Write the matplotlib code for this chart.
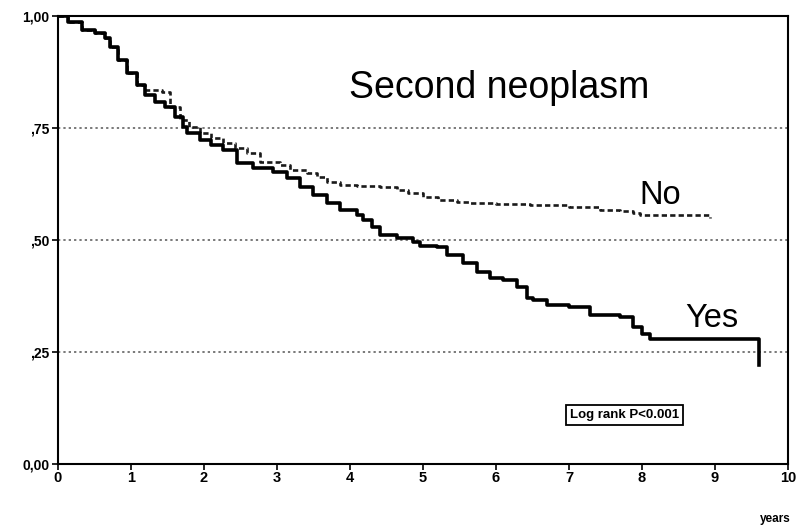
import matplotlib.pyplot as plt

# Kaplan-Meier style survival curves
yes_t = [0, 0.14, 0.33, 0.51, 0.64, 0.71, 0.82, 0.94, 1.08, 1.19, 1.33, 1.47, 1.6, 1.71,
         1.77, 1.95, 2.1, 2.26, 2.45, 2.67, 2.95, 3.14, 3.32, 3.49, 3.68, 3.86, 4.1,
         4.18, 4.3, 4.41, 4.64, 4.86, 4.96, 5.19, 5.33, 5.55, 5.74, 5.92, 6.1, 6.29,
         6.42, 6.5, 6.7, 7.0, 7.29, 7.7, 7.88, 8.0, 8.11, 9.6, 9.6]
yes_s = [1.0, 0.987, 0.969, 0.962, 0.951, 0.931, 0.902, 0.873, 0.846, 0.824, 0.808,
         0.797, 0.775, 0.752, 0.739, 0.723, 0.712, 0.701, 0.672, 0.661, 0.652, 0.638,
         0.618, 0.60, 0.583, 0.567, 0.556, 0.545, 0.528, 0.511, 0.504, 0.496, 0.487,
         0.484, 0.467, 0.449, 0.429, 0.415, 0.411, 0.395, 0.37, 0.366, 0.355, 0.35,
         0.332, 0.328, 0.306, 0.29, 0.278, 0.25, 0.22]

no_t = [0, 0.14, 0.33, 0.51, 0.64, 0.71, 0.82, 0.94, 1.08, 1.19, 1.29, 1.42, 1.53, 1.67,
        1.8, 1.95, 2.1, 2.26, 2.42, 2.59, 2.77, 3.04, 3.18, 3.41, 3.55, 3.68, 3.86, 4.1,
        4.41, 4.64, 4.8, 5.0, 5.2, 5.47, 5.64, 6.0, 6.47, 7.0, 7.42, 7.7, 7.88, 7.97,
        8.93]
no_s = [1.0, 0.987, 0.969, 0.962, 0.951, 0.931, 0.902, 0.873, 0.846, 0.835, 0.835,
        0.83, 0.797, 0.768, 0.752, 0.739, 0.728, 0.716, 0.705, 0.694, 0.674, 0.667,
        0.656, 0.649, 0.64, 0.629, 0.623, 0.62, 0.618, 0.612, 0.605, 0.596, 0.59,
        0.585, 0.583, 0.58, 0.578, 0.573, 0.567, 0.564, 0.56, 0.555, 0.549]

x_ticks = list(range(0, 11))
y_ticks = [0, 0.25, 0.5, 0.75, 1.0]
y_labels = ["0,00", ",25", ",50", ",75", "1,00"]

narrow = ['Liberation Sans Narrow', 'Liberation Sans', 'DejaVu Sans']
plt.rcParams['font.family'] = ['Liberation Sans', 'DejaVu Sans']

fig = plt.figure(figsize=(8.01, 5.29), dpi=100)
ax = fig.add_axes([0.0724, 0.1229, 0.9114, 0.8469])

# dotted reference lines
for yv in [0.25, 0.5, 0.75]:
    ax.axhline(yv, color='#555555', linestyle=(0, (1.5, 2)), linewidth=1.1, zorder=1)

ax.step(no_t, no_s, where='post', color='#1a1a1a', linewidth=1.9,
        linestyle=(0, (2, 1.2)), zorder=3)
ax.step(yes_t, yes_s, where='post', color='black', linewidth=2.6, zorder=4)

ax.set_xlim(0, 10)
ax.set_ylim(0, 1.0)
ax.set_xticks(x_ticks)
ax.set_xticklabels([str(v) for v in x_ticks], fontfamily=narrow,
                   fontweight='bold', fontsize=10.5)
ax.set_yticks(y_ticks)
ax.set_yticklabels(y_labels, fontfamily=narrow, fontweight='bold', fontsize=10)
ax.tick_params(direction='out', length=4, width=1.2, pad=2)
ax.tick_params(axis='x', pad=1)

for sp in ax.spines.values():
    sp.set_linewidth(1.5)

ax.text(6.05, 0.84, "Second neoplasm", fontsize=27, ha='center', va='center')
ax.text(8.25, 0.60, "No", fontsize=23.5, ha='center', va='center')
ax.text(8.95, 0.325, "Yes", fontsize=23.5, ha='center', va='center')
ax.text(7.76, 0.109, "Log rank P<0.001", fontsize=9.5,
        fontweight='bold', fontfamily=narrow, ha='center', va='center',
        bbox=dict(boxstyle='square,pad=0.3', facecolor='white',
                  edgecolor='black', linewidth=1.3))

fig.text(0.9675, 0.019, "years", fontsize=8.5, fontweight='bold',
         fontfamily=narrow, ha='center', va='center')

fig.savefig("out.png", dpi=100)
